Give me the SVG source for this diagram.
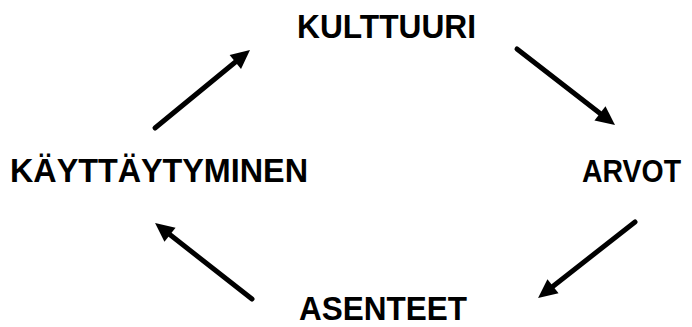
<svg xmlns="http://www.w3.org/2000/svg" width="692" height="327" viewBox="0 0 692 327">
  <style>
    .label { font-family: "Liberation Sans", Arial, sans-serif; font-weight: bold; font-size: 33px; fill: #000; }
    .conn { stroke: #000; stroke-width: 5; stroke-linecap: round; fill: none; marker-end: url(#head); }
  </style>
  <defs>
    <marker id="head" markerUnits="userSpaceOnUse" viewBox="-10 -10 32 20" refX="8" refY="0" markerWidth="32" markerHeight="20" orient="auto">
      <path d="M0,-9 L19,0 L0,9 Z" fill="#000"/>
    </marker>
  </defs>
  <rect width="692" height="327" fill="#fff"/>

  <g id="connectors">
    <!-- käyttäytyminen -> kulttuuri -->
    <line class="conn" x1="155" y1="128" x2="241.5" y2="57"/>
    <!-- kulttuuri -> arvot -->
    <line class="conn" x1="517" y1="49" x2="606.3" y2="118.3"/>
    <!-- arvot -> asenteet -->
    <line class="conn" x1="635" y1="222" x2="546.7" y2="291.2"/>
    <!-- asenteet -> käyttäytyminen -->
    <line class="conn" x1="252" y1="299" x2="163.7" y2="229.8"/>
  </g>

  <g id="kulttuuri">
    <text class="label" x="297" y="38" textLength="179" lengthAdjust="spacingAndGlyphs">KULTTUURI</text>
  </g>
  <g id="arvot">
    <text class="label" x="582" y="182" font-size="32" textLength="99" lengthAdjust="spacingAndGlyphs" style="font-size:32px">ARVOT</text>
  </g>
  <g id="asenteet">
    <text class="label" x="299" y="320" textLength="168" lengthAdjust="spacingAndGlyphs">ASENTEET</text>
  </g>
  <g id="kayttaytyminen">
    <text class="label" x="10" y="182" textLength="298" lengthAdjust="spacingAndGlyphs">KÄYTTÄYTYMINEN</text>
  </g>
</svg>
